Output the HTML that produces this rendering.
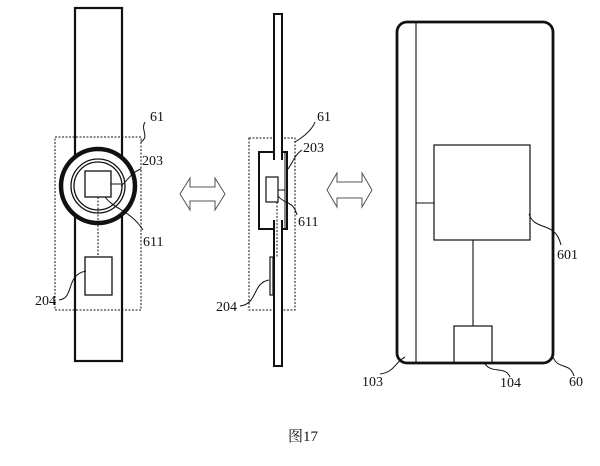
<!DOCTYPE html>
<html><head><meta charset="utf-8"><style>
html,body{margin:0;padding:0;background:#fff;width:600px;height:466px;overflow:hidden}
text{font-family:"Liberation Serif","Noto Serif CJK SC",serif;font-size:14px;fill:#111}
</style></head><body>
<svg width="600" height="466" viewBox="0 0 600 466" xmlns="http://www.w3.org/2000/svg">
<g fill="none" stroke="#111">
<rect x="75" y="8" width="47" height="353" stroke-width="2.2" fill="#fff"/>
<rect x="55" y="137" width="86" height="173" stroke-width="1" stroke-dasharray="2,1.5"/>
<circle cx="98" cy="186" r="37" stroke-width="4.5" fill="#fff"/>
<circle cx="98" cy="186" r="27" stroke-width="1.3"/>
<circle cx="98" cy="186" r="24" stroke-width="1.3"/>
<rect x="85" y="171" width="26" height="26" stroke-width="1.3"/>
<line x1="111" y1="184" x2="121" y2="184" stroke-width="1"/>
<line x1="98" y1="197" x2="98" y2="257" stroke-width="1" stroke-dasharray="2,1.5"/>
<rect x="85" y="257" width="27" height="38" stroke-width="1.3" fill="#fff"/>
<path d="M145 122 C140 130,150 136,141 142" stroke-width="1"/>
<path d="M141 169 C132 172,128 180,121 186" stroke-width="1"/>
<path d="M105 197 C115 210,130 210,143 230" stroke-width="1"/>
<path d="M59 300 C75 298,65 275,86 271" stroke-width="1"/>
<rect x="249" y="138" width="46" height="172" stroke-width="1" stroke-dasharray="2,1.5"/>
<rect x="259" y="152" width="28" height="77" stroke-width="2" fill="#fff"/>
<rect x="274" y="14" width="8" height="145" stroke-width="2" fill="#fff"/>
<rect x="274" y="221" width="8" height="145" stroke-width="2" fill="#fff"/>
<line x1="275" y1="159" x2="281" y2="159" stroke="#fff" stroke-width="3"/>
<line x1="275" y1="221" x2="281" y2="221" stroke="#fff" stroke-width="3"/>
<line x1="285" y1="153" x2="285" y2="228" stroke-width="1"/>
<rect x="266" y="177" width="12" height="25" stroke-width="1.2"/>
<line x1="278" y1="190" x2="285" y2="190" stroke-width="1"/>
<line x1="277" y1="202" x2="277" y2="257" stroke-width="1" stroke-dasharray="2,1.5"/>
<rect x="270" y="257" width="3" height="38" stroke-width="1.2"/>
<path d="M315 122 C312 130,305 136,295 142" stroke-width="1"/>
<path d="M302 150 C294 155,292 165,287 170" stroke-width="1"/>
<path d="M278 196 C285 205,293 200,297 215" stroke-width="1"/>
<path d="M240 306 C258 304,252 283,269 280" stroke-width="1"/>
<path d="M180 194 L190 178 L190 187 L215 187 L215 178 L225 194 L215 210 L215 201 L190 201 L190 210 Z" stroke-width="1" stroke="#555"/>
<path d="M327 190 L337 173 L337 182 L362 182 L362 173 L372 190 L362 207 L362 198 L337 198 L337 207 Z" stroke-width="1" stroke="#555"/>
<rect x="397" y="22" width="156" height="341" rx="10" stroke-width="2.8"/>
<line x1="416" y1="23" x2="416" y2="362" stroke-width="1.1"/>
<rect x="434" y="145" width="96" height="95" stroke-width="1.2"/>
<line x1="416" y1="203" x2="434" y2="203" stroke-width="1.1"/>
<line x1="473" y1="240" x2="473" y2="326" stroke-width="1.1"/>
<rect x="454" y="326" width="38" height="37" stroke-width="1.2"/>
<path d="M529 214 C535 232,555 220,561 245" stroke-width="1"/>
<path d="M405 357 C395 362,395 372,380 374" stroke-width="1"/>
<path d="M484 362 C490 375,505 365,510 377" stroke-width="1"/>
<path d="M553 357 C558 370,570 362,574 376" stroke-width="1"/>
</g>
<text x="150" y="121">61</text>
<text x="142" y="165">203</text>
<text x="143" y="246">611</text>
<text x="35" y="305">204</text>
<text x="317" y="121">61</text>
<text x="303" y="152">203</text>
<text x="298" y="226">611</text>
<text x="216" y="311">204</text>
<text x="557" y="259">601</text>
<text x="362" y="386">103</text>
<text x="500" y="387">104</text>
<text x="569" y="386">60</text>
<text x="288" y="441" style="font-size:15px">图17</text>
</svg>
</body></html>
